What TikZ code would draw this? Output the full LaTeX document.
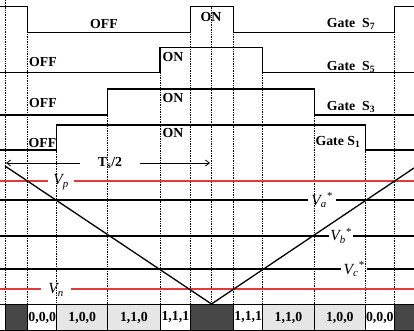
\documentclass[tikz,border=0pt]{standalone}
\usepackage{fontspec}
\setmainfont{Liberation Serif}
\usetikzlibrary{arrows.meta}
\definecolor{pwmred}{HTML}{E03A3A}
\definecolor{pwmgray}{HTML}{E6E6E6}
\definecolor{pwmdark}{HTML}{474747}
\tikzset{
  gate/.style={line width=1.4pt,line join=miter},
  level/.style={line width=1.1pt},
  reflevel/.style={line width=1.7pt,draw=pwmred},
  guide/.style={densely dotted,line width=0.7pt},
  carrier/.style={line width=1.3pt},
  lab/.style={font=\fontsize{13.8}{16}\selectfont\bfseries,inner sep=0pt},
  vlab/.style={font=\fontsize{15.5}{18}\selectfont\itshape,inner xsep=4pt,inner ysep=0pt},
  cell/.style={draw,line width=1pt,fill=white},
  cellon/.style={cell,fill=pwmgray},
  cellzero/.style={cell,fill=pwmdark},
  ar/.style={-{Straight Barb[length=4pt,width=6pt]},line width=0.8pt},
}
\begin{document}
\begin{tikzpicture}[x=1pt,y=-1pt]
  \useasboundingbox (0,0) rectangle (414,331);
  % dotted switching instants (each starts at its gate edge)
  \foreach \x/\ytop in {5/0,27.7/6.7,56.7/125,107.7/89,160/47.7,190.7/6.7,211/6.7,233.7/6.7,262.7/47.7,314.3/89,365.3/125,394.3/6.7}
    \draw[guide] (\x,\ytop) -- (\x,304);
  % gate signals
  \draw[gate] (0,6.7) -- (27.7,6.7) |- (190.7,32.3) |- (233.7,6.7) |- (394.3,32.3) |- (414,6.7);
  \draw[gate] (0,72.3) -- (160,72.3) |- (262.7,47.7) |- (414,72.3);
  \draw[gate] (0,115) -- (107.7,115) |- (314.3,89) |- (414,115);
  \draw[gate] (0,150) -- (56.7,150) |- (365.3,125) |- (414,150);
  \node[lab] (s7off) at (104,24) {OFF};
  \node[lab] (s7on) at (211,17) {ON};
  \node[lab] (g7) at (351,24) {Gate~ S\textsubscript{7}};
  \node[lab,anchor=west] (s5off) at (29,62) {OFF};
  \node[lab] (s5on) at (173,57.5) {ON};
  \node[lab] (g5) at (351,67) {Gate~ S\textsubscript{5}};
  \node[lab,anchor=west] (s3off) at (29,103) {OFF};
  \node[lab] (s3on) at (173,98) {ON};
  \node[lab] (g3) at (351,107) {Gate~ S\textsubscript{3}};
  \node[lab,anchor=west] (s1off) at (28.5,143) {OFF};
  \node[lab] (s1on) at (173,133) {ON};
  \node[lab] (g1) at (338,142) {Gate S\textsubscript{1}};
  % half carrier period
  \node[lab,inner xsep=18pt] (ts) at (110,163) {T\textsubscript{s}/2};
  \coordinate (tsl) at (6,163);
  \coordinate (tsr) at (210,163);
  \draw[ar] (ts.west) -- (tsl);
  \draw[ar] (ts.east) -- (tsr);
  % reference levels
  \node[vlab,inner xsep=5pt] (vp) at (61,182) {V\textsubscript{p}};
  \node[vlab,inner xsep=3pt] (va) at (322,200) {V\textsubscript{a}\textsuperscript{*}};
  \node[vlab,inner xsep=1pt] (vb) at (341,236) {V\textsubscript{b}\textsuperscript{*}};
  \node[vlab,inner xsep=2pt] (vc) at (354,269) {V\textsubscript{c}\textsuperscript{*}};
  \node[vlab,inner xsep=7pt] (vn) at (56,290) {V\textsubscript{n}};
  \draw[reflevel] (0,181) -- (vp.west |- 0,181);
  \draw[reflevel] (vp.east |- 0,181) -- (414,181);
  \draw[level] (0,200) -- (va.west);
  \draw[level] (va.east) -- (414,200);
  \draw[level] (0,236) -- (vb.west);
  \draw[level] (vb.east) -- (414,236);
  \draw[level] (0,269) -- (vc.west);
  \draw[level] (vc.east) -- (414,269);
  \draw[reflevel] (0,289) -- (vn.west |- 0,289);
  \draw[reflevel] (vn.east |- 0,289) -- (414,289);
  % triangular carrier
  \draw[carrier] (5,166) -- (211.5,304) -- (414,168);
  % switching states
  \draw[line width=1pt] (0,304) -- (414,304) (0,330) -- (414,330);
  \foreach \xa/\xb/\st/\txt [count=\i] in {5/27.7/cellzero/{},27.7/56.7/cell/{0,0,0},56.7/107.7/cellon/{1,0,0},107.7/160/cellon/{1,1,0},160/190.7/cell/{1,1,1},190.7/233.7/cellzero/{},233.7/262.7/cell/{1,1,1},262.7/314.3/cellon/{1,1,0},314.3/365.3/cellon/{1,0,0},365.3/394.3/cell/{0,0,0},394.3/414/cellzero/{}}
  {
    \draw[\st] (\xa,304) rectangle (\xb,330);
    \node[lab] (state\i) at ({(\xa+\xb)/2},317.5) {\txt};
  }
\end{tikzpicture}
\end{document}
